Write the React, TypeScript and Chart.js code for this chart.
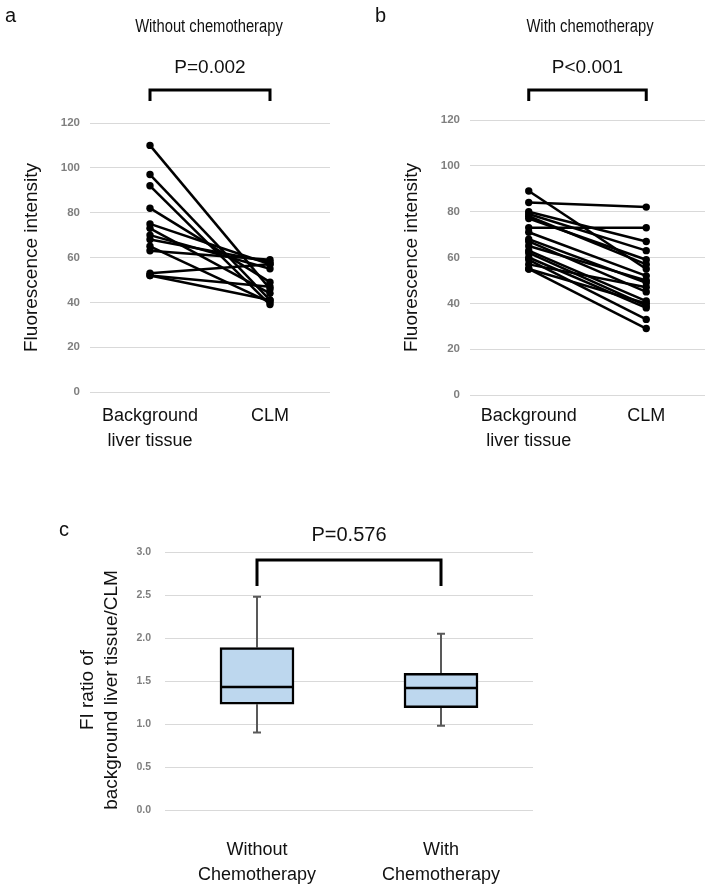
import React, { useEffect, useRef } from 'react';
import { Chart, registerables } from 'chart.js';
Chart.register(...registerables);

// ---------- data ----------
const pairCategories = [['Background', 'liver tissue'], 'CLM'];
const fiTicks = [0, 20, 40, 60, 80, 100, 120];

const bgWithout = [110, 97, 92, 82, 75, 73, 70, 68, 65, 63, 53, 52, 52];
const clmWithout = [46, 41, 39, 49, 57, 44, 55, 58, 40, 59, 57, 47, 41];

const bgWith = [84, 89, 80, 79, 78, 77, 73, 71, 68, 67, 65, 63, 62, 60, 59, 57, 55, 55];
const clmWith = [82, 55, 67, 63, 57, 59, 73, 52, 49, 45, 50, 41, 39, 38, 33, 47, 29, 40];

const boxCategories = [['Without', 'Chemotherapy'], ['With', 'Chemotherapy']];
const ratioTicks = [0, 0.5, 1.0, 1.5, 2.0, 2.5, 3.0];
const boxMin = [0.9, 0.98];
const boxQ1 = [1.23, 1.19];
const boxMedian = [1.43, 1.42];
const boxQ3 = [1.89, 1.59];
const boxMax = [2.48, 2.05];
const ratioTitle = ['FI ratio of', 'background liver tissue/CLM'];

const FONT = '"Liberation Sans", Arial, sans-serif';

function pairAnnotation(letter: string, letterX: number, title: string, titleX: number, pText: string) {
  return {
    id: 'pairAnnot',
    afterDraw(chart: any) {
      const { ctx, scales } = chart;
      const x0 = scales.x.getPixelForValue(0);
      const x1 = scales.x.getPixelForValue(1);
      ctx.save();
      ctx.fillStyle = '#111';
      ctx.textBaseline = 'middle';
      ctx.textAlign = 'left';
      ctx.font = `20px ${FONT}`;
      ctx.fillText(letter, letterX, 16);
      // condensed title (narrow face)
      ctx.save();
      ctx.translate(titleX, 27);
      ctx.scale(0.82, 1);
      ctx.textAlign = 'center';
      ctx.font = `18px ${FONT}`;
      ctx.fillText(title, 0, 0);
      ctx.restore();
      ctx.textAlign = 'center';
      ctx.font = `19px ${FONT}`;
      ctx.fillText(pText, (x0 + x1) / 2, 68);
      ctx.strokeStyle = '#000';
      ctx.lineWidth = 3;
      ctx.lineJoin = 'miter';
      ctx.beginPath();
      ctx.moveTo(x0, 101);
      ctx.lineTo(x0, 90);
      ctx.lineTo(x1, 90);
      ctx.lineTo(x1, 101);
      ctx.stroke();
      ctx.restore();
    },
  };
}

function pairConfig(bg: number[], clm: number[], padRight: number, padTop: number, yWidth: number, xHeight: number, titlePad: number, xPad: number, annot: any) {
  return {
    type: 'line',
    data: {
      labels: pairCategories,
      datasets: bg.map((v, i) => ({
        data: [v, clm[i]],
        borderColor: '#000',
        backgroundColor: '#000',
        borderWidth: 2.5,
        pointRadius: 3.7,
        pointBorderWidth: 0,
        pointBackgroundColor: '#000',
        fill: false,
        tension: 0,
      })),
    },
    options: {
      animation: false,
      responsive: false,
      maintainAspectRatio: false,
      layout: { padding: { top: padTop, right: padRight, left: 0, bottom: 0 } },
      plugins: { legend: { display: false }, tooltip: { enabled: false } },
      scales: {
        x: {
          type: 'category',
          offset: true,
          grid: { display: false, drawTicks: false },
          border: { display: false },
          ticks: { color: '#111', font: { family: FONT, size: 18, lineHeight: 1.38 }, padding: xPad, maxRotation: 0, autoSkip: false },
          afterFit: (s: any) => { s.height = xHeight; },
        },
        y: {
          min: 0,
          max: 120,
          afterBuildTicks: (s: any) => { s.ticks = fiTicks.map((v) => ({ value: v })); },
          ticks: { color: '#7f7f7f', font: { family: FONT, size: 11.5, weight: 'bold' }, padding: 10 },
          grid: { color: '#d9d9d9', drawTicks: false, lineWidth: 1 },
          border: { display: false },
          title: { display: true, text: 'Fluorescence intensity', color: '#111', font: { family: FONT, size: 19, lineHeight: 1.25 }, padding: { top: titlePad, bottom: 0 } },
          afterFit: (s: any) => { s.width = yWidth; },
        },
      },
    },
    plugins: [annot],
  };
}

const boxPlugin = {
  id: 'boxWhiskers',
  beforeDatasetsDraw(chart: any) {
    const { ctx, scales } = chart;
    ctx.save();
    ctx.strokeStyle = '#595959';
    ctx.lineWidth = 2;
    boxMin.forEach((mn, i) => {
      const x = scales.x.getPixelForValue(i);
      const yMin = scales.y.getPixelForValue(mn);
      const yMax = scales.y.getPixelForValue(boxMax[i]);
      const yQ1 = scales.y.getPixelForValue(boxQ1[i]);
      const yQ3 = scales.y.getPixelForValue(boxQ3[i]);
      ctx.beginPath();
      ctx.moveTo(x, yQ3); ctx.lineTo(x, yMax);
      ctx.moveTo(x - 4, yMax); ctx.lineTo(x + 4, yMax);
      ctx.moveTo(x, yQ1); ctx.lineTo(x, yMin);
      ctx.moveTo(x - 4, yMin); ctx.lineTo(x + 4, yMin);
      ctx.stroke();
    });
    ctx.restore();
  },
  afterDatasetsDraw(chart: any) {
    const { ctx, scales } = chart;
    const meta = chart.getDatasetMeta(0);
    ctx.save();
    ctx.strokeStyle = '#000';
    ctx.lineWidth = 2.5;
    boxMedian.forEach((m, i) => {
      const bar = meta.data[i];
      const half = bar.width / 2;
      const y = scales.y.getPixelForValue(m);
      ctx.beginPath();
      ctx.moveTo(bar.x - half, y);
      ctx.lineTo(bar.x + half, y);
      ctx.stroke();
    });
    ctx.restore();
  },
  afterDraw(chart: any) {
    const { ctx, scales, chartArea } = chart;
    const x0 = scales.x.getPixelForValue(0);
    const x1 = scales.x.getPixelForValue(1);
    ctx.save();
    ctx.fillStyle = '#111';
    ctx.textBaseline = 'middle';
    ctx.textAlign = 'left';
    ctx.font = `20px ${FONT}`;
    ctx.fillText('c', 59, 70);
    ctx.textAlign = 'center';
    ctx.fillText('P=0.576', (x0 + x1) / 2, 75);
    // y-axis title (two lines, rotated)
    ctx.save();
    ctx.font = `19px ${FONT}`;
    ctx.translate(88, (chartArea.top + chartArea.bottom) / 2 + 9);
    ctx.rotate(-Math.PI / 2);
    ratioTitle.forEach((line, i) => ctx.fillText(line, 0, i * 24));
    ctx.restore();
    ctx.strokeStyle = '#000';
    ctx.lineWidth = 3;
    ctx.beginPath();
    ctx.moveTo(x0, chartArea.top + 34);
    ctx.lineTo(x0, chartArea.top + 8);
    ctx.lineTo(x1, chartArea.top + 8);
    ctx.lineTo(x1, chartArea.top + 34);
    ctx.stroke();
    ctx.restore();
  },
};

function boxConfig() {
  return {
    type: 'bar',
    data: {
      labels: boxCategories,
      datasets: [
        {
          data: boxQ1.map((q1, i) => [q1, boxQ3[i]]),
          backgroundColor: '#bdd7ee',
          borderColor: '#000',
          borderWidth: 2.5,
          borderSkipped: false,
          barThickness: 74,
        },
      ],
    },
    options: {
      animation: false,
      responsive: false,
      maintainAspectRatio: false,
      layout: { padding: { top: 92, right: 176, left: 0, bottom: 0 } },
      plugins: { legend: { display: false }, tooltip: { enabled: false } },
      scales: {
        x: {
          type: 'category',
          offset: true,
          grid: { display: false, drawTicks: false },
          border: { display: false },
          ticks: { color: '#111', font: { family: FONT, size: 18, lineHeight: 1.38 }, padding: 28, maxRotation: 0, autoSkip: false },
          afterFit: (s: any) => { s.height = 76; },
        },
        y: {
          min: 0,
          max: 3,
          afterBuildTicks: (s: any) => { s.ticks = ratioTicks.map((v) => ({ value: v })); },
          ticks: { color: '#7f7f7f', font: { family: FONT, size: 10.5, weight: 'bold' }, padding: 14, callback: (v: any) => Number(v).toFixed(1) },
          grid: { color: '#d9d9d9', drawTicks: false, lineWidth: 1 },
          border: { display: false },
          title: { display: false },
          afterFit: (s: any) => { s.width = 165; },
        },
      },
    },
    plugins: [boxPlugin],
  };
}

function ChartCanvas({ config, left, top, width, height }: any) {
  const ref = useRef<HTMLCanvasElement | null>(null);
  useEffect(() => {
    if (!ref.current) return;
    const chart = new Chart(ref.current, config());
    return () => chart.destroy();
  }, []);
  return (
    <canvas
      ref={ref}
      width={width}
      height={height}
      style={{ position: 'absolute', left, top, width, height }}
    />
  );
}

export default function App() {
  return (
    <div style={{ position: 'absolute', left: 0, top: 0, width: 709, height: 886, background: '#fff' }}>
      <ChartCanvas
        left={0}
        top={0}
        width={354}
        height={460}
        config={() => pairConfig(bgWithout, clmWithout, 24, 123, 90, 68, 20, 12,
          pairAnnotation('a', 5, 'Without chemotherapy', 209, 'P=0.002'))}
      />
      <ChartCanvas
        left={354}
        top={0}
        width={355}
        height={460}
        config={() => pairConfig(bgWith, clmWith, 3, 120, 116, 65, 46, 9,
          pairAnnotation('b', 21, 'With chemotherapy', 236, 'P<0.001'))}
      />
      <ChartCanvas left={0} top={460} width={709} height={426} config={boxConfig} />
    </div>
  );
}
